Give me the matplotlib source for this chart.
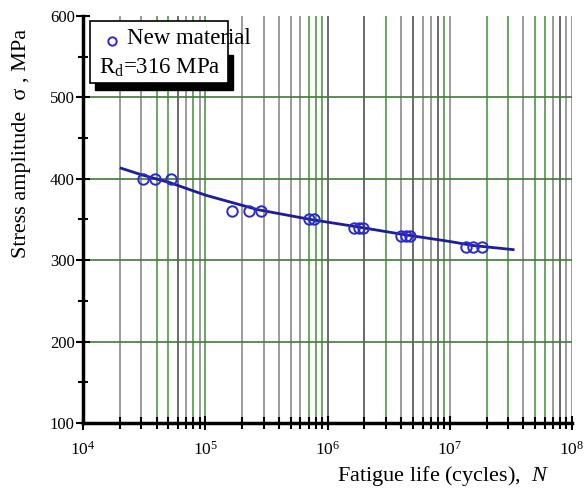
import matplotlib
matplotlib.use("Agg")
import matplotlib.pyplot as plt
from matplotlib.patches import Rectangle
from matplotlib.ticker import LogLocator, FixedLocator, LogFormatterMathtext

plt.rcParams['font.family'] = ['Liberation Serif', 'DejaVu Serif']
plt.rcParams['mathtext.fontset'] = 'custom'
plt.rcParams['mathtext.rm'] = 'Liberation Serif'
plt.rcParams['mathtext.it'] = 'Liberation Serif:italic'

# test results (cycles, MPa)
cycles = [3.1e4, 3.9e4, 5.2e4,
          1.67e5, 2.28e5, 2.84e5,
          7.0e5, 7.7e5,
          1.64e6, 1.80e6, 1.95e6,
          4.0e6, 4.4e6, 4.7e6,
          1.36e7, 1.56e7, 1.83e7]
stress = [400, 400, 400,
          360, 360, 360,
          350, 350,
          340, 340, 340,
          330, 330, 330,
          316, 316, 316]

# fitted S-N curve
curve_n = [2.05e4, 3.0e4, 5.2e4, 1.0e5, 2.7e5, 7.3e5, 1.75e6, 4.2e6, 1.0e7, 1.56e7, 3.3e7]
curve_s = [413, 405, 395, 380, 362, 350, 341, 331.5, 323, 318, 313]

legend_label = "New material"
rd_label = "R$_\\mathregular{d}$=316 MPa"

fig = plt.figure(figsize=(5.85, 4.92), dpi=100)
ax = fig.add_axes([83 / 585, 1 - 423 / 492, 489 / 585, 407 / 492])

ax.set_xscale('log')
ax.set_xlim(1e4, 1e8)
ax.set_ylim(100, 600)

# grid lines (mixed grey / green as in the scan)
grey, green, dark = '#8a8a8a', '#4f9a45', '#505050'
vcolors = [grey, grey, green, green, dark, grey, green, grey, green,
           grey, grey, grey, grey, grey, green, green, green, dark,
           dark, green, grey, dark, grey, grey, dark, green, grey,
           green, green, grey, green, green, grey, dark, grey, grey]
k = 0
for dec in [1e4, 1e5, 1e6, 1e7]:
    for m in range(2, 11):
        ax.axvline(dec * m, color=vcolors[k], lw=1.2, zorder=1)
        k += 1
for yv in [200, 300, 400, 500]:
    ax.axhline(yv, color='#3f7a35', lw=1.2, zorder=1)

ax.plot(curve_n, curve_s, color='#1c1c9c', lw=2.0, zorder=3)
ax.plot(cycles, stress, 'o', mfc='none', mec='#2a2ad0', mew=1.4, ms=7.5, zorder=4)

for side in ['top', 'right']:
    ax.spines[side].set_visible(False)
for side in ['left', 'bottom']:
    ax.spines[side].set_linewidth(2.5)
    ax.spines[side].set_zorder(5)

ax.yaxis.set_major_locator(FixedLocator([100, 200, 300, 400, 500, 600]))
ax.yaxis.set_minor_locator(FixedLocator([150, 250, 350, 450, 550]))
ax.xaxis.set_major_locator(LogLocator(base=10, numticks=10))
ax.xaxis.set_minor_locator(LogLocator(base=10, subs=range(2, 10), numticks=20))
ax.xaxis.set_major_formatter(LogFormatterMathtext())
ax.tick_params(axis='y', which='major', direction='inout', length=10, width=1.5, labelsize=12, pad=1)
ax.tick_params(axis='y', which='minor', direction='inout', length=7, width=1.5)
ax.tick_params(axis='x', which='major', direction='inout', length=10, width=1.5, labelsize=12.5, pad=8)
ax.tick_params(axis='x', which='minor', direction='inout', length=8, width=1.5)

# legend box with a heavy offset shadow
def px(x, y):
    return (x - 83) / 489, (423 - y) / 407

sx, sy = px(95, 90)
ax.add_patch(Rectangle((sx, sy), 138 / 489, 35 / 407, transform=ax.transAxes,
                       facecolor='black', edgecolor='black', zorder=6, clip_on=False))
bx, by = px(90, 83)
ax.add_patch(Rectangle((bx, by), 138 / 489, 62 / 407, transform=ax.transAxes,
                       facecolor='white', edgecolor='black', lw=1.2, zorder=7, clip_on=False))
ax.plot(*px(112, 41), 'o', mfc='none', mec='#2a2ad0', mew=1.4, ms=6,
        transform=ax.transAxes, zorder=8, clip_on=False)
ax.text(*px(127, 39), legend_label, transform=ax.transAxes, fontsize=16.5,
        ha='left', va='center', zorder=8)
ax.text(*px(99, 68), rd_label, transform=ax.transAxes, fontsize=16.5,
        ha='left', va='center', zorder=8)

fig.text(22 / 585, 1 - 143 / 492, "Stress amplitude  σ , MPa", rotation=90,
         ha='center', va='center', fontsize=16)
fig.text(549 / 585, 1 - 476 / 492, "Fatigue life (cycles),  $N$",
         ha='right', va='center', fontsize=16)

fig.savefig("out.png", dpi=100)
